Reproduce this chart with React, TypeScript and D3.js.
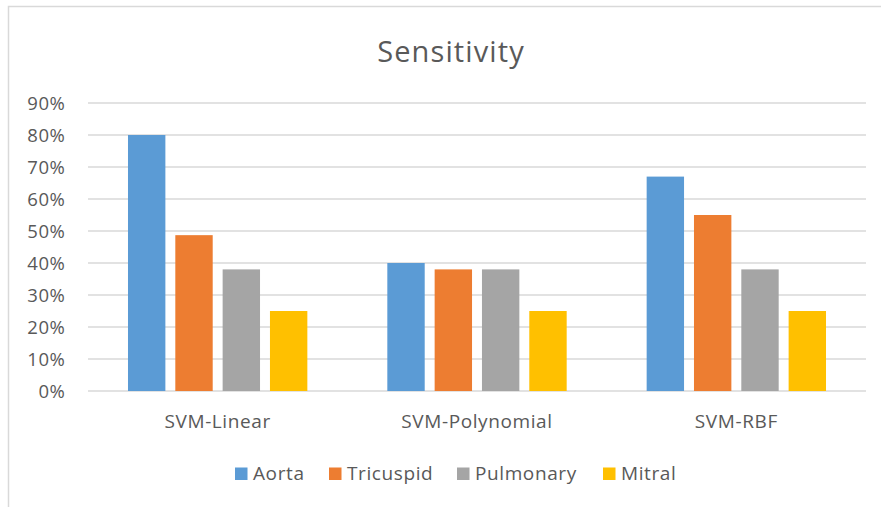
import { useEffect, useRef } from "react";
import * as d3 from "d3";

const categories = ["SVM-Linear", "SVM-Polynomial", "SVM-RBF"];
const seriesNames = ["Aorta", "Tricuspid", "Pulmonary", "Mitral"];
const seriesColors = ["#5B9BD5", "#ED7D31", "#A5A5A5", "#FFC000"];
const aorta = [0.8, 0.4, 0.67];
const tricuspid = [0.487, 0.38, 0.55];
const pulmonary = [0.38, 0.38, 0.38];
const mitral = [0.25, 0.25, 0.25];
const yTicks = [0, 0.1, 0.2, 0.3, 0.4, 0.5, 0.6, 0.7, 0.8, 0.9];

const W = 881;
const H = 507;
const FONT = "'Open Sans', sans-serif";
const TEXT = "#595959";

export default function App() {
  const svgRef = useRef<SVGSVGElement>(null);

  useEffect(() => {
    const values = [aorta, tricuspid, pulmonary, mitral];
    const svg = d3.select(svgRef.current).html(null);

    // outer chart border (continues past the picture edge)
    svg
      .append("rect")
      .attr("x", 8.5)
      .attr("y", 6.5)
      .attr("width", W + 20)
      .attr("height", H + 20)
      .attr("fill", "#fff")
      .attr("stroke", "#D9D9D9")
      .attr("stroke-width", 1.5);

    svg
      .append("text")
      .attr("x", 451)
      .attr("y", 62)
      .attr("text-anchor", "middle")
      .style("font-family", FONT)
      .style("font-size", "29px")
      .style("letter-spacing", "1.1px")
      .style("fill", TEXT)
      .text("Sensitivity");

    const x0 = d3.scaleBand<string>().domain(categories).range([88, 866]);
    const x1 = d3
      .scaleBand<string>()
      .domain(seriesNames)
      .range([0, x0.bandwidth()])
      .paddingInner(0.21)
      .paddingOuter(0.845);
    const y = d3.scaleLinear().domain([0, 0.9]).range([391, 103]);

    // gridlines
    svg
      .append("g")
      .selectAll("line")
      .data(yTicks)
      .join("line")
      .attr("x1", 88)
      .attr("x2", 866)
      .attr("y1", (d) => y(d))
      .attr("y2", (d) => y(d))
      .attr("stroke", "#D9D9D9")
      .attr("stroke-width", 1.5);

    svg
      .append("g")
      .selectAll("text")
      .data(yTicks)
      .join("text")
      .attr("x", 65.5)
      .attr("y", (d) => y(d))
      .attr("dy", "0.36em")
      .attr("text-anchor", "end")
      .style("font-family", FONT)
      .style("font-size", "18.5px")
      .style("letter-spacing", "0.6px")
      .style("fill", TEXT)
      .text((d) => d3.format(".0%")(d));

    // bars
    seriesNames.forEach((name, si) => {
      svg
        .append("g")
        .selectAll("rect")
        .data(categories)
        .join("rect")
        .attr("x", (c) => (x0(c) as number) + (x1(name) as number))
        .attr("y", (c, i) => y(values[si][i]))
        .attr("width", x1.bandwidth())
        .attr("height", (c, i) => y(0) - y(values[si][i]))
        .attr("fill", seriesColors[si]);
    });

    // category labels
    svg
      .append("g")
      .selectAll("text")
      .data(categories)
      .join("text")
      .attr("x", (c) => (x0(c) as number) + x0.bandwidth() / 2)
      .attr("y", 428)
      .attr("text-anchor", "middle")
      .style("font-family", FONT)
      .style("font-size", "19px")
      .style("letter-spacing", "0.6px")
      .style("fill", TEXT)
      .text((c) => c);

    // legend
    const legendX = [235, 329, 457, 603];
    const lg = svg
      .append("g")
      .selectAll("g")
      .data(seriesNames)
      .join("g")
      .attr("transform", (d, i) => `translate(${legendX[i]},467.5)`);
    lg.append("rect")
      .attr("width", 12.5)
      .attr("height", 12.5)
      .attr("fill", (d, i) => seriesColors[i]);
    lg.append("text")
      .attr("x", 18)
      .attr("y", 12)
      .style("font-family", FONT)
      .style("font-size", "19px")
      .style("letter-spacing", "0.6px")
      .style("fill", TEXT)
      .text((d) => d);
  }, []);

  return (
    <>
      <style>{"body{margin:0;background:#fff}"}</style>
      <svg ref={svgRef} width={W} height={H} style={{ display: "block" }}></svg>
    </>
  );
}
